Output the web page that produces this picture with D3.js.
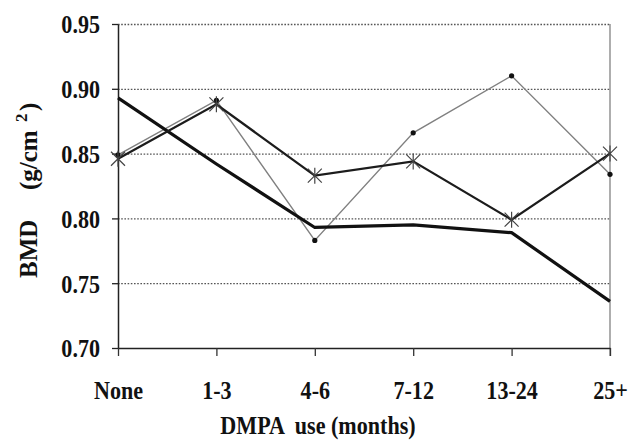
<!DOCTYPE html>
<html lang="en">
<head>
    <meta charset="UTF-8">
    <title>BMD by DMPA use</title>
    <script src="https://d3js.org/d3.v7.min.js"></script>
    <style>
        body {margin: 0; background: white;}
        text {
            font-family: "Liberation Serif", "Times New Roman", serif;
            font-weight: bold;
            fill: #111;
        }
    </style>
</head>
<body>
<script>
    const width = 629;
    const height = 442;

    // data
    const categories = ["None", "1-3", "4-6", "7-12", "13-24", "25+"];
    const thickSeries = [0.893, 0.842, 0.793, 0.795, 0.789, 0.736];
    const starSeries  = [0.846, 0.888, 0.833, 0.844, 0.799, 0.850];
    const dotSeries   = [0.849, 0.891, 0.783, 0.866, 0.910, 0.834];
    const yTicks = [0.70, 0.75, 0.80, 0.85, 0.90, 0.95];

    const margin = {top: 24, right: 19, bottom: 94, left: 118};
    const svg = d3.select("body").append("svg")
            .attr("width", width).attr("height", height);

    const x = d3.scalePoint().domain(categories).range([margin.left, width - margin.right]);
    const y = d3.scaleLinear().domain([0.70, 0.95]).range([height - margin.bottom, margin.top]);

    // dotted gridlines
    svg.append("g").attr("class", "grid")
            .attr("transform", `translate(${margin.left},0)`)
            .call(d3.axisLeft(y).tickValues(yTicks.slice(1)).tickSize(-(width - margin.right - margin.left)).tickFormat(""))
            .call(g => g.select(".domain").remove())
            .selectAll("line")
            .style("stroke", "#555")
            .style("stroke-width", 1.3)
            .style("stroke-dasharray", "1.6,1.6");

    // right border
    svg.append("line")
            .attr("x1", x("25+")).attr("x2", x("25+"))
            .attr("y1", y(0.95)).attr("y2", y(0.70) + 8)
            .style("stroke", "#777").style("stroke-width", 1.2);

    // y axis
    svg.append("g").attr("class", "y axis")
            .attr("transform", `translate(${margin.left},0)`)
            .call(d3.axisLeft(y).tickValues(yTicks).tickSize(6).tickSizeOuter(0).tickFormat(d3.format(".2f")))
            .call(g => g.select(".domain").style("stroke", "#222").style("stroke-width", 1.5))
            .call(g => g.selectAll("line").style("stroke", "#222").style("stroke-width", 1.3))
            .selectAll("text")
            .attr("x", 0).attr("dy", "0.34em")
            .attr("transform", "translate(-18,0) scale(0.85,1)")
            .style("font-size", "26px")
            .style("font-family", "'Liberation Serif', serif");

    // x axis
    svg.append("g").attr("class", "x axis")
            .attr("transform", `translate(0,${y(0.70)})`)
            .call(d3.axisBottom(x).tickSize(8).tickSizeOuter(0))
            .call(g => g.select(".domain").style("stroke", "#222").style("stroke-width", 1.3))
            .call(g => g.selectAll("line").style("stroke", "#333").style("stroke-width", 1.3))
            .selectAll("text")
            .attr("y", 0).attr("dy", 0)
            .attr("transform", "translate(0,51) scale(0.85,1)")
            .style("font-size", "26px")
            .style("font-family", "'Liberation Serif', serif");

    const line = d3.line().x((d, i) => x(categories[i])).y(d => y(d));

    // thin grey series with dots
    svg.append("path").datum(dotSeries)
            .attr("d", line)
            .style("fill", "none").style("stroke", "#808080").style("stroke-width", 1.4);
    svg.selectAll("circle.dot").data(dotSeries).enter()
            .append("circle").attr("class", "dot")
            .attr("cx", (d, i) => x(categories[i])).attr("cy", d => y(d))
            .attr("r", 2.6).style("fill", "#111");

    // thick black series
    svg.append("path").datum(thickSeries)
            .attr("d", line)
            .style("fill", "none").style("stroke", "#111").style("stroke-width", 3.2)
            .style("stroke-linejoin", "round");

    // star series
    svg.append("path").datum(starSeries)
            .attr("d", line)
            .style("fill", "none").style("stroke", "#1c1c1c").style("stroke-width", 2.3);
    const star = "M-7,-7L7,7M-7,7L7,-7M0,-8L0,8";
    svg.selectAll("path.star").data(starSeries).enter()
            .append("path").attr("class", "star")
            .attr("transform", (d, i) => `translate(${x(categories[i])},${y(d)})`)
            .attr("d", star)
            .style("stroke", "#444").style("stroke-width", 1.2).style("fill", "none");

    // axis titles
    svg.append("text")
            .attr("transform", "translate(318,434) scale(0.85,1)")
            .attr("text-anchor", "middle")
            .style("font-size", "26px")
            .style("white-space", "pre")
            .text("DMPA  use (months)");

    const yTitle = svg.append("text")
            .attr("transform", "translate(37,278) rotate(-90)")
            .style("font-size", "25px");
    yTitle.append("tspan").attr("x", 0).text("BMD");
    yTitle.append("tspan").attr("x", 88).text("(g/cm");
    yTitle.append("tspan").attr("x", 156).attr("dy", -10).style("font-size", "17px").text("2");
    yTitle.append("tspan").attr("x", 167).attr("dy", 10).text(")");
</script>
</body>
</html>
